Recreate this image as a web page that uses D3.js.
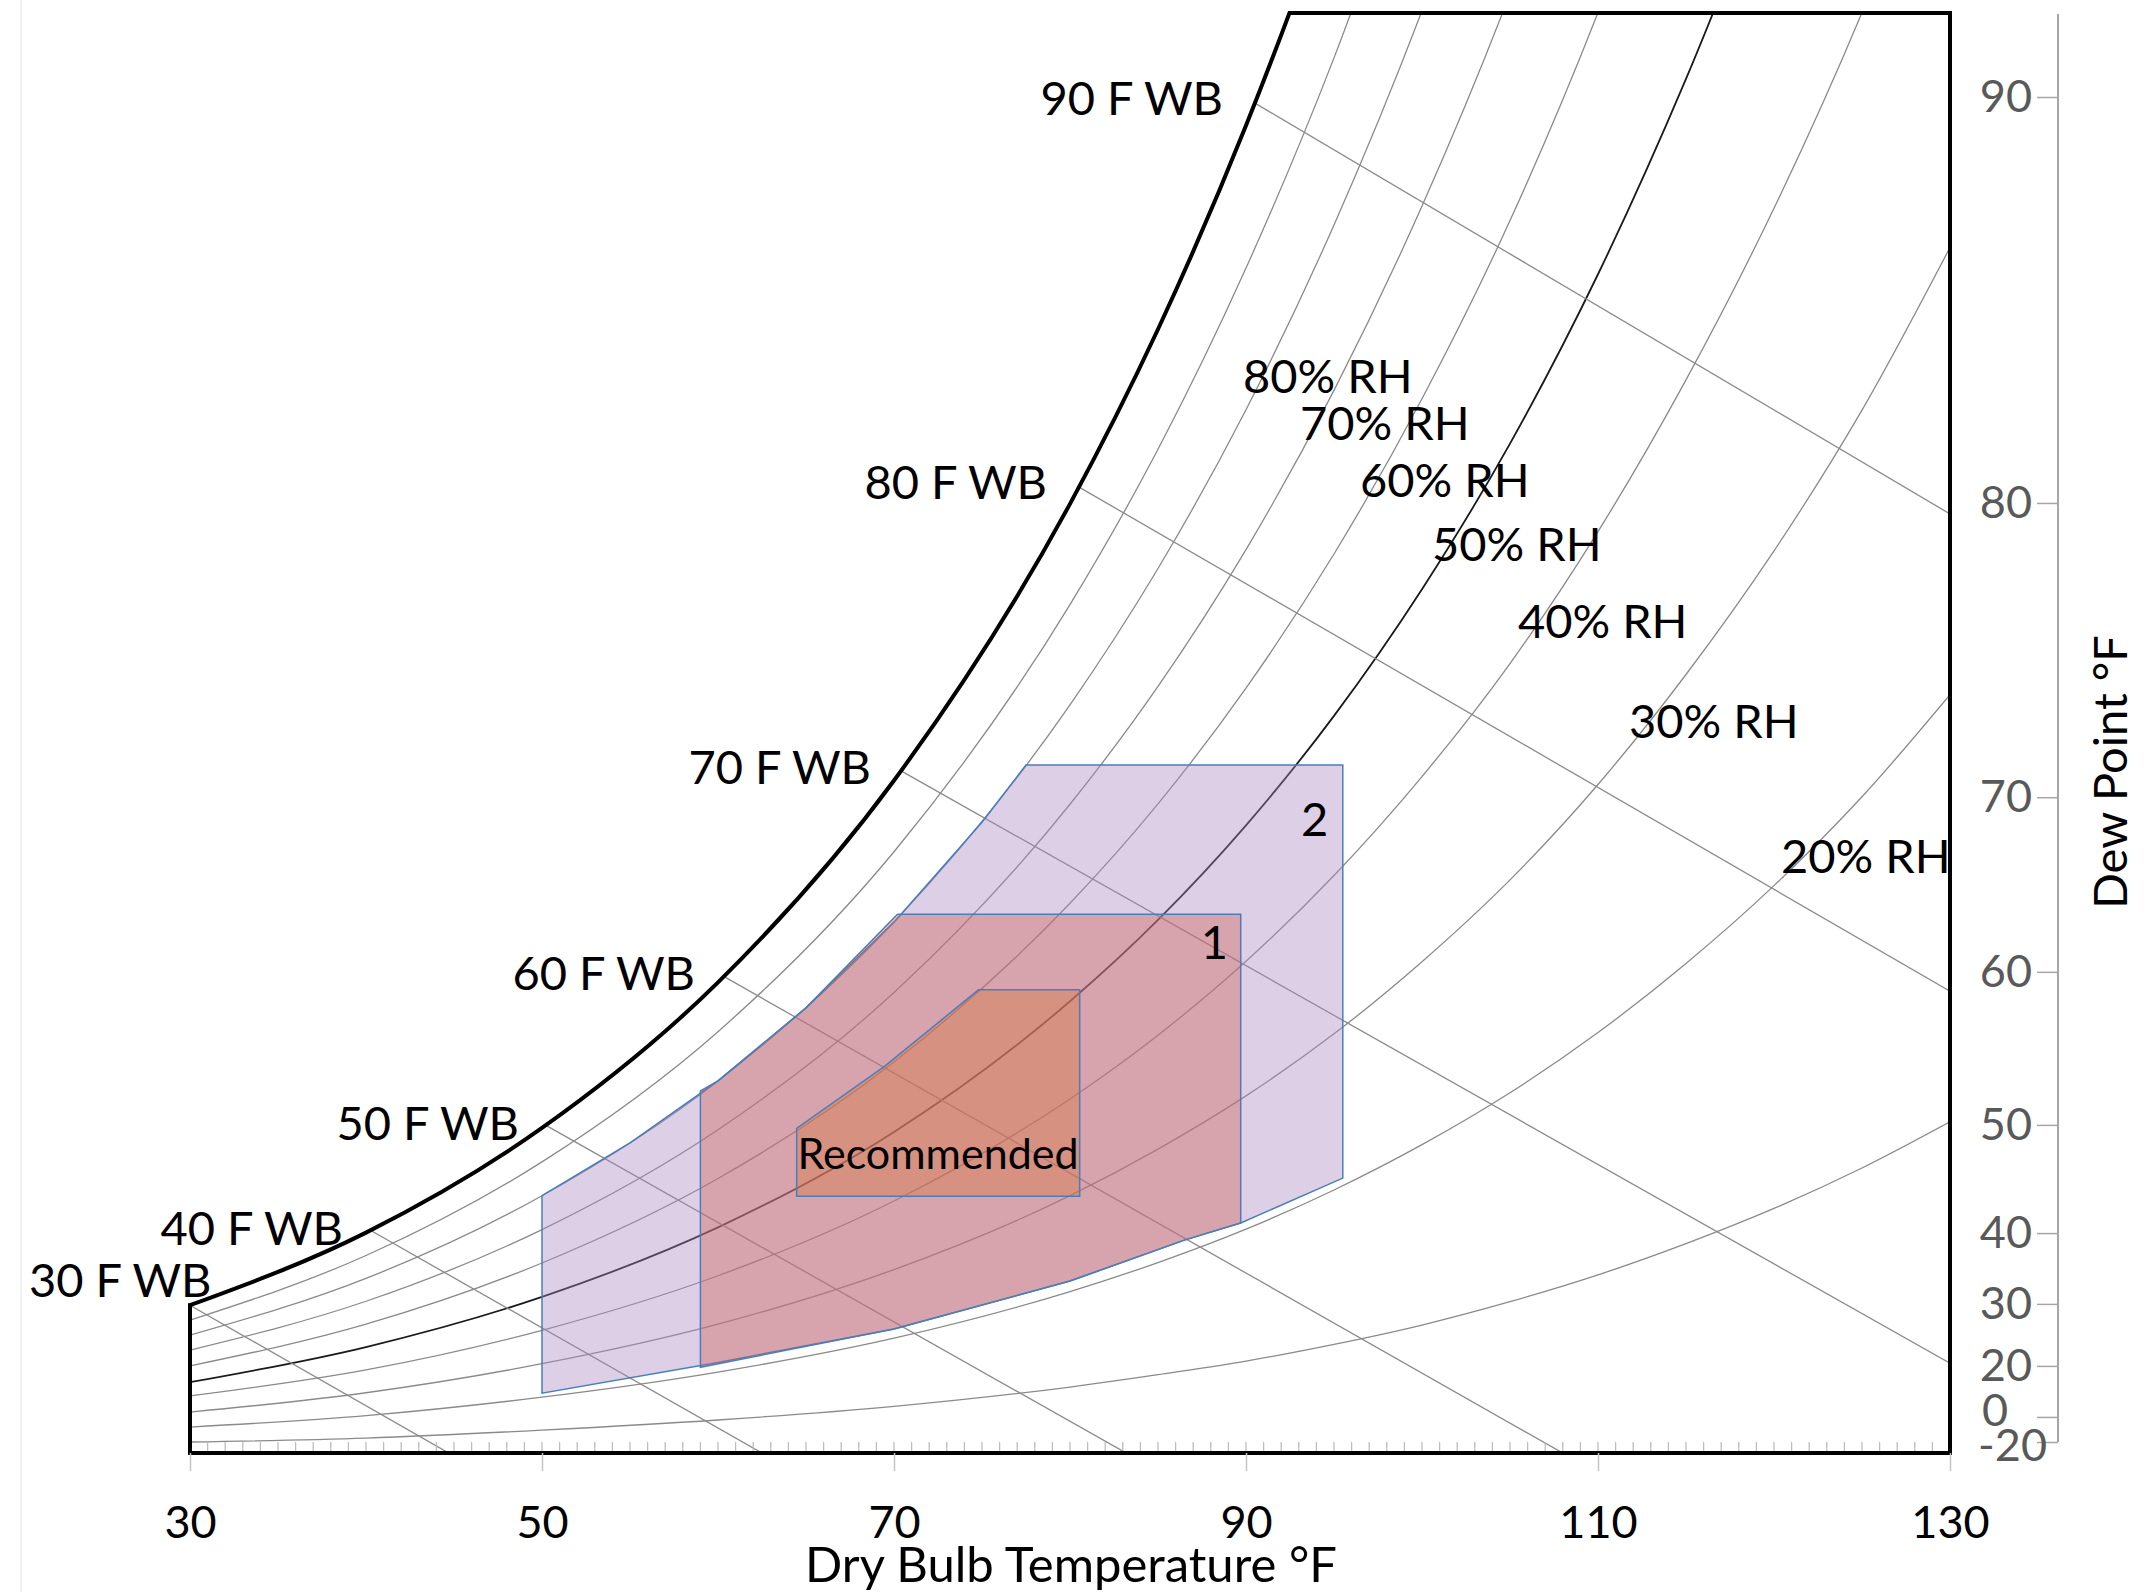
<!DOCTYPE html>
<html>
<head>
<meta charset="utf-8">
<script src="https://cdn.jsdelivr.net/npm/d3@7"></script>
<style>
  body { margin: 0; background: #fff; }
  text { font-family: Lato, "Open Sans", sans-serif; }
</style>
</head>
<body>
<div id="chart"></div>
<script>
// dry bulb temperatures (F) where the curves were read
const dryBulb = [30, 40, 50, 60, 70, 80, 85, 90, 95, 100, 105, 110, 115, 120, 125, 130]

// humidity ratio (lb/lb) along each RH curve
const rh100 = [0.00352, 0.00517, 0.00755, 0.01086, 0.01545, 0.02174, 0.02571, 0.03034, 0.03573, 0.04202]
const rh90 = [0.00318, 0.00465, 0.00678, 0.00974, 0.01383, 0.01945, 0.02298, 0.02710, 0.03188, 0.03746]
const rh80 = [0.00284, 0.00413, 0.00601, 0.00862, 0.01223, 0.01717, 0.02027, 0.02388, 0.02808, 0.03295, 0.03858]
const rh70 = [0.00250, 0.00361, 0.00524, 0.00751, 0.01063, 0.01491, 0.01759, 0.02070, 0.02432, 0.02851, 0.03334, 0.03898]
const rh60 = [0.00214, 0.00309, 0.00448, 0.00640, 0.00905, 0.01266, 0.01492, 0.01755, 0.02060, 0.02413, 0.02818, 0.03291, 0.03840]
const rh50 = [0.00177, 0.00257, 0.00371, 0.00529, 0.00746, 0.01043, 0.01228, 0.01443, 0.01692, 0.01980, 0.02311, 0.02696, 0.03140, 0.03643]
const rh40 = [0.00146, 0.00205, 0.00295, 0.00419, 0.00589, 0.00821, 0.00966, 0.01134, 0.01329, 0.01554, 0.01811, 0.02111, 0.02456, 0.02846, 0.03291, 0.03806]
const rh30 = [0.00109, 0.00153, 0.00219, 0.00309, 0.00433, 0.00601, 0.00707, 0.00828, 0.00969, 0.01133, 0.01319, 0.01536, 0.01786, 0.02067, 0.02387, 0.02757]
const rh20 = [0.00075, 0.00101, 0.00143, 0.00200, 0.00277, 0.00383, 0.00449, 0.00525, 0.00614, 0.00717, 0.00835, 0.00972, 0.01129, 0.01306, 0.01508, 0.01740]
const rh10 = [0.00041, 0.00050, 0.00068, 0.00091, 0.00122, 0.00166, 0.00194, 0.00225, 0.00263, 0.00307, 0.00360, 0.00421, 0.00492, 0.00572, 0.00664, 0.00769]

const rhLevels = [90, 80, 70, 60, 50, 40, 30, 20, 10]
const rhSeries = [rh90, rh80, rh70, rh60, rh50, rh40, rh30, rh20, rh10]

// wet bulb lines: start on saturation, end point
const wbTemps = [30, 40, 50, 60, 70, 80, 90]
const wbStartW = [0.00352, 0.00528, 0.00766, 0.01107, 0.01576, 0.02224, 0.03097]
const wbEndDb = [45.4, 63.2, 83.9, 108.7, 130, 130, 130]
const wbEndW = [0, 0, 0, 0, 0.0022, 0.01066, 0.02151]

// RH labels (left end of text, middle of text)
const rhLabelText = ["80% RH", "70% RH", "60% RH", "50% RH", "40% RH", "30% RH", "20% RH"]
const rhLabelDb = [89.83, 93.07, 96.48, 100.57, 105.45, 111.76, 120.4]
const rhLabelW = [0.02465, 0.02357, 0.02228, 0.02082, 0.01907, 0.01680, 0.01374]

// dew point axis
const dewTicks = [90, 80, 70, 60, 50, 40, 30, 20, 0, -20]
const dewW = [0.03099, 0.02176, 0.01507, 0.01110, 0.00762, 0.00516, 0.00355, 0.00214, 0.00098, 0.00041]

const dbTicks = [30, 50, 70, 90, 110, 130]

// envelopes [dry bulb, humidity ratio]
const zone2 = [[50, 0.00152], [50, 0.00601], [55, 0.00721], [60, 0.00862], [65, 0.01028], [70, 0.01223], [75, 0.0145], [77.5, 0.0158],
    [95.5, 0.0158], [95.5, 0.00641], [89.7, 0.00539], [86.5, 0.0050], [80, 0.00407], [70, 0.00298], [60, 0.00222]]
const zone1 = [[59, 0.00211], [59, 0.00839], [60, 0.00862], [65, 0.01028], [70.2, 0.01241],
    [89.7, 0.01241], [89.7, 0.00539], [86.5, 0.0050], [80, 0.00407], [70, 0.00298]]
const zoneRec = [[64.47, 0.0060], [64.47, 0.00754], [69.46, 0.00895], [74.8, 0.01069], [80.55, 0.01069], [80.55, 0.0060]]

const WIDTH = 2148
const HEIGHT = 1592
const MARGIN = {top: 13, bot: 139, left: 190, right: 198}
const plotRight = WIDTH - MARGIN.right
const plotBot = HEIGHT - MARGIN.bot

const svg = d3.select("#chart")
    .append("svg")
    .attr("width", WIDTH)
    .attr("height", HEIGHT)

const xScale = d3.scaleLinear()
    .domain([30, 130])
    .range([MARGIN.left, plotRight])

const yScale = d3.scaleLinear()
    .domain([0.00016, 0.0329])
    .range([plotBot, MARGIN.top])

const curve = d3.line()
    .x(d => xScale(d[0]))
    .y(d => yScale(d[1]))
    .curve(d3.curveMonotoneX)

const straight = d3.line()
    .x(d => xScale(d[0]))
    .y(d => yScale(d[1]))

const satPts = rh100.map((w, i) => [dryBulb[i], w])
const satPath = curve(satPts)
const lastSat = satPts[satPts.length - 1]

const defs = svg.append("defs")
defs.append("clipPath").attr("id", "plot")
    .append("rect")
    .attr("x", MARGIN.left).attr("y", MARGIN.top)
    .attr("width", plotRight - MARGIN.left).attr("height", plotBot - MARGIN.top)
defs.append("clipPath").attr("id", "plotwide")
    .append("rect")
    .attr("x", MARGIN.left - 4).attr("y", MARGIN.top - 2)
    .attr("width", plotRight - MARGIN.left + 8).attr("height", plotBot - MARGIN.top + 6)
defs.append("clipPath").attr("id", "undersat")
    .append("path")
    .attr("d", satPath + `L${WIDTH},${yScale(lastSat[1])}L${WIDTH},${HEIGHT}L${MARGIN.left},${HEIGHT}Z`)

// faint slide edge on the far left
svg.append("line")
    .attr("x1", 21).attr("x2", 21).attr("y1", 0).attr("y2", HEIGHT)
    .attr("stroke", "#ececec").attr("stroke-width", 1.5)

const inner = svg.append("g").attr("clip-path", "url(#plot)")
    .append("g").attr("clip-path", "url(#undersat)")

// RH curves
inner.selectAll(".rh")
    .data(rhSeries)
    .join("path")
    .attr("class", "rh")
    .attr("d", s => curve(s.map((w, i) => [dryBulb[i], w])))
    .attr("fill", "none")
    .attr("stroke", (s, i) => rhLevels[i] === 50 ? "#1a1a1a" : "#8a8a8a")
    .attr("stroke-width", (s, i) => rhLevels[i] === 50 ? 1.8 : 1.3)

// wet bulb lines
inner.selectAll(".wb")
    .data(wbTemps)
    .join("path")
    .attr("class", "wb")
    .attr("d", (t, i) => straight([[t, wbStartW[i]], [wbEndDb[i], wbEndW[i]]]))
    .attr("fill", "none")
    .attr("stroke", "#8a8a8a")
    .attr("stroke-width", 1.3)

// envelopes
const zones = [
    {pts: zone2, fill: "rgb(168,135,193)"},
    {pts: zone1, fill: "rgb(207,97,88)"},
    {pts: zoneRec, fill: "rgb(212,118,61)"}
]
inner.selectAll(".zone")
    .data(zones)
    .join("path")
    .attr("class", "zone")
    .attr("d", z => straight(z.pts) + "Z")
    .attr("fill", z => z.fill)
    .attr("fill-opacity", 0.4)
    .attr("stroke", "#4a7ebb")
    .attr("stroke-width", 1.5)

// minor ticks along the bottom
svg.append("g")
    .selectAll("line")
    .data(d3.range(31, 130))
    .join("line")
    .attr("x1", d => xScale(d)).attr("x2", d => xScale(d))
    .attr("y1", plotBot).attr("y2", plotBot - 11)
    .attr("stroke", "#bdbdbd")
    .attr("stroke-width", 1.3)

// outline: saturation curve and frame
svg.append("path")
    .attr("clip-path", "url(#plotwide)")
    .attr("d", satPath)
    .attr("fill", "none")
    .attr("stroke", "#000")
    .attr("stroke-width", 4)

svg.append("line")
    .attr("clip-path", "url(#undersat)")
    .attr("x1", MARGIN.left).attr("x2", plotRight + 2)
    .attr("y1", MARGIN.top).attr("y2", MARGIN.top)
    .attr("stroke", "#000").attr("stroke-width", 4)

const frame = svg.append("g").attr("stroke", "#000").attr("stroke-width", 4).attr("stroke-linecap", "square")
frame.append("line")
    .attr("x1", MARGIN.left).attr("x2", MARGIN.left)
    .attr("y1", plotBot).attr("y2", yScale(rh100[0]))
frame.append("line")
    .attr("x1", MARGIN.left).attr("x2", plotRight)
    .attr("y1", plotBot).attr("y2", plotBot)
frame.append("line")
    .attr("x1", plotRight).attr("x2", plotRight)
    .attr("y1", MARGIN.top).attr("y2", plotBot)

// bottom axis
const xAxis = d3.axisBottom(xScale)
    .tickValues(dbTicks)
    .tickSize(18)
    .tickSizeOuter(0)
    .tickPadding(35)

svg.append("g")
    .attr("transform", `translate(0, ${plotBot})`)
    .call(xAxis)
    .attr("font-family", "Lato, sans-serif")
    .attr("font-size", 45)
    .call(g => g.select(".domain").remove())
    .call(g => g.selectAll(".tick line").attr("stroke", "#c4c4c4").attr("stroke-width", 1.5))
    .call(g => g.selectAll(".tick text").attr("fill", "#000"))

svg.append("text")
    .attr("x", 1071)
    .attr("y", 1582)
    .attr("text-anchor", "middle")
    .attr("font-size", 49)
    .text("Dry Bulb Temperature °F")

// dew point axis on the right
const axisX = 2058
const yAxis = d3.axisLeft(yScale)
    .tickValues(dewW)
    .tickFormat((d, i) => dewTicks[i])
    .tickSize(21)
    .tickSizeOuter(0)
    .tickPadding(5)

svg.append("g")
    .attr("transform", `translate(${axisX}, 0)`)
    .call(yAxis)
    .attr("font-family", "Lato, sans-serif")
    .attr("font-size", 45)
    .call(g => g.select(".domain").remove())
    .call(g => g.selectAll(".tick line").attr("stroke", "#a6a6a6").attr("stroke-width", 1.5))
    .call(g => g.selectAll(".tick text").attr("fill", "#595959"))
    // the two lowest labels sit staggered, as in the original
    .call(g => g.selectAll(".tick text")
        .filter(d => d === dewW[dewW.length - 2]).attr("dx", -24).attr("dy", "0.2em"))
    .call(g => g.selectAll(".tick text")
        .filter(d => d === dewW[dewW.length - 1]).attr("dx", 15).attr("dy", "0.42em"))

svg.append("line")
    .attr("x1", axisX).attr("x2", axisX)
    .attr("y1", 14).attr("y2", yScale(dewW[dewW.length - 1]))
    .attr("stroke", "#a6a6a6").attr("stroke-width", 2)

svg.append("text")
    .attr("transform", `translate(2127, 772) rotate(-90)`)
    .attr("text-anchor", "middle")
    .attr("font-size", 47)
    .text("Dew Point °F")

// wet bulb labels
svg.append("g")
    .selectAll("text")
    .data(wbTemps)
    .join("text")
    .attr("x", t => xScale(t) - 23)
    .attr("y", (t, i) => yScale(wbStartW[i]) + 17)
    .attr("text-anchor", "end")
    .attr("font-size", 47)
    .text(t => `${t} F WB`)
    .each(function () {
        const b = this.getBBox()
        if (b.x < 25) {
            d3.select(this)
                .attr("text-anchor", "start")
                .attr("x", 29)
                .attr("y", +d3.select(this).attr("y") - 25)
        }
    })

// RH labels
svg.append("g")
    .selectAll("text")
    .data(rhLabelText)
    .join("text")
    .attr("x", (t, i) => xScale(rhLabelDb[i]))
    .attr("y", (t, i) => yScale(rhLabelW[i]) + 17)
    .attr("font-size", 47)
    .text(t => t)

// envelope labels
const zoneLabels = [
    {text: "2", db: 93.9, w: 0.01456, size: 47},
    {text: "1", db: 88.2, w: 0.01176, size: 47},
    {text: "Recommended", db: 72.5, w: 0.00698, size: 43}
]
svg.append("g")
    .selectAll("text")
    .data(zoneLabels)
    .join("text")
    .attr("x", d => xScale(d.db))
    .attr("y", d => yScale(d.w) + 16)
    .attr("text-anchor", "middle")
    .attr("font-size", d => d.size)
    .text(d => d.text)
</script>
</body>
</html>
